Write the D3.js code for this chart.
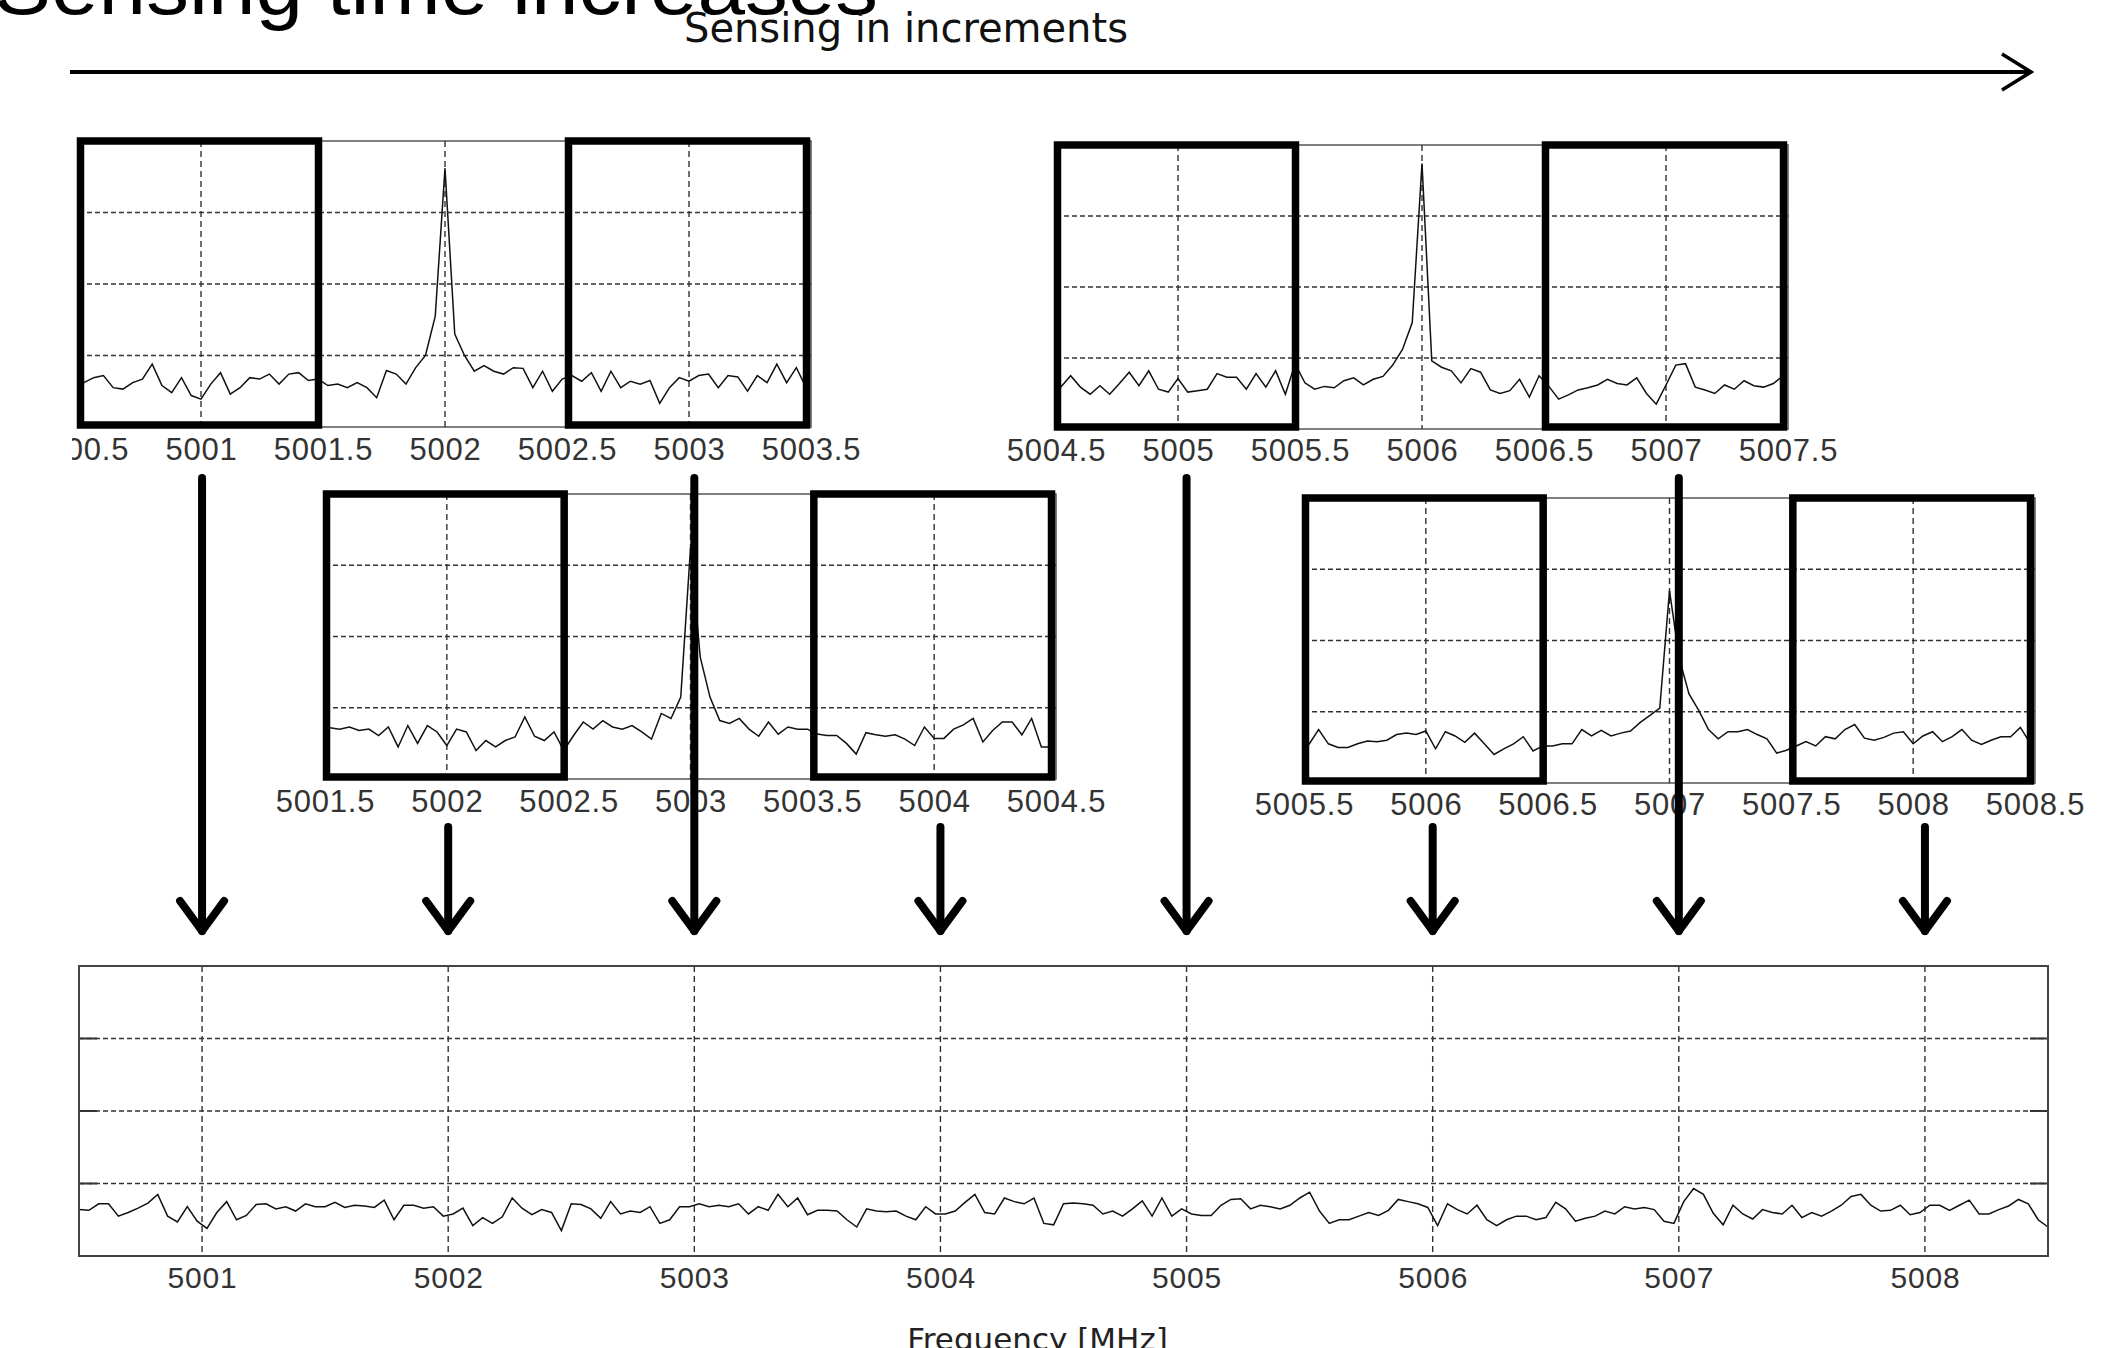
<!DOCTYPE html>
<html>
<head>
<meta charset="utf-8">
<script src="https://cdn.jsdelivr.net/npm/d3@7"></script>
<style>
  body { margin: 0; background: #fff; }
</style>
</head>
<body>
<div id="container"></div>
<script>
let width = 2123;
let height = 1348;

// spectrum samples, MHz apart
let step = 0.04;
let sweepOffset = 0.02;
let sweepSpan = 3;
let levelMax = 4;
let levelTicks = [1, 2, 3];

// left edge (MHz) of each partial sweep: top-left, top-right, middle-left, middle-right
let sweepStarts = [5000.5, 5004.5, 5001.5, 5005.5];

let sweep1 = [.62,.69,.72,.55,.53,.62,.67,.88,.58,.48,
  .69,.44,.39,.60,.76,.46,.55,.69,.67,.74,
  .60,.74,.76,.65,.67,.58,.60,.55,.62,.55,
  .41,.79,.74,.60,.83,1.0,1.55,3.62,1.3,1.0,
  .78,.86,.78,.74,.83,.82,.55,.78,.50,.67,
  .72,.64,.76,.50,.78,.55,.64,.60,.65,.33,
  .55,.69,.64,.72,.74,.55,.72,.70,.50,.72,
  .62,.88,.62,.83,.55];

let sweep2 = [.59,.75,.59,.49,.61,.49,.64,.80,.61,.82,
  .56,.52,.71,.52,.54,.56,.78,.73,.73,.56,
  .78,.59,.82,.49,.92,.65,.56,.60,.58,.68,
  .72,.62,.70,.74,.90,1.12,1.5,3.74,.96,.87,
  .82,.65,.85,.80,.55,.50,.54,.70,.45,.75,
  .60,.42,.48,.55,.58,.62,.70,.64,.62,.72,
  .50,.35,.62,.90,.92,.59,.55,.50,.62,.56,
  .68,.61,.59,.64,.75];

let sweep3 = [.72,.70,.73,.68,.70,.61,.73,.45,.75,.50,
  .75,.66,.47,.70,.66,.40,.54,.45,.54,.59,
  .87,.60,.54,.66,.40,.61,.80,.70,.82,.73,
  .70,.75,.66,.56,.92,.85,1.15,3.24,1.71,1.15,
  .82,.78,.85,.70,.60,.80,.63,.73,.70,.70,
  .63,.61,.61,.50,.35,.65,.62,.60,.62,.56,
  .47,.73,.57,.57,.70,.76,.85,.52,.68,.80,
  .80,.62,.85,.45,.45];

let sweep4 = [.54,.75,.55,.50,.50,.55,.59,.58,.60,.68,
  .70,.68,.73,.48,.72,.66,.57,.70,.55,.40,
  .48,.55,.65,.45,.52,.52,.55,.55,.75,.66,
  .74,.66,.70,.73,.85,.95,1.05,2.70,1.75,1.25,
  1.02,.75,.62,.72,.72,.75,.68,.62,.42,.46,
  .52,.58,.52,.65,.62,.75,.82,.63,.60,.64,
  .70,.72,.55,.66,.72,.58,.65,.75,.60,.54,
  .60,.65,.65,.78,.56];

// combined result, 5000.5 .. 5008.5 MHz
let combinedStart = 5000.5;
let combinedEnd = 5008.5;
let combined = [.64,.63,.72,.72,.55,.60,.66,.73,.85,.55,
  .47,.68,.48,.38,.60,.75,.50,.56,.71,.72,
  .65,.68,.62,.72,.68,.68,.74,.67,.70,.69,
  .67,.77,.50,.70,.70,.66,.68,.55,.58,.66,
  .42,.53,.45,.54,.80,.66,.57,.64,.60,.35,
  .72,.71,.65,.52,.75,.58,.62,.60,.68,.45,
  .50,.68,.68,.72,.68,.70,.68,.72,.58,.68,
  .63,.85,.68,.80,.57,.63,.63,.62,.50,.40,
  .65,.62,.61,.62,.55,.50,.68,.58,.58,.62,
  .74,.85,.60,.58,.80,.75,.72,.80,.45,.43,
  .72,.73,.72,.70,.58,.62,.55,.65,.76,.55,
  .80,.55,.65,.58,.56,.56,.70,.78,.79,.65,
  .70,.68,.65,.70,.80,.88,.62,.45,.50,.50,
  .55,.60,.56,.63,.78,.75,.72,.67,.42,.72,
  .64,.58,.70,.50,.42,.50,.55,.55,.50,.53,
  .74,.65,.48,.52,.55,.62,.58,.68,.65,.67,
  .64,.48,.45,.75,.93,.85,.59,.43,.70,.58,
  .51,.64,.60,.58,.70,.53,.60,.55,.62,.70,
  .82,.85,.70,.62,.63,.70,.57,.60,.70,.70,
  .63,.70,.77,.58,.58,.64,.69,.78,.72,.50,
  .40];
let combinedTicks = [5001, 5002, 5003, 5004, 5005, 5006, 5007, 5008];

let titleText = "Sensing time increases";
let arrowText = "Sensing in increments";
let axisTitle = "Frequency [MHz]";

let svg = d3.select("#container")
  .append("svg")
  .attr("width", width)
  .attr("height", height);

// the first label of the top-left sweep is cut on its left side
svg.append("defs").append("clipPath").attr("id", "clipLeft")
  .append("rect").attr("x", 72).attr("y", -200).attr("width", width).attr("height", 400);

let fmt = function (d) { return d % 1 === 0 ? String(d) : d.toFixed(1) };

// headings
svg.append("text").attr("x", -6).attr("y", 14).text(titleText)
  .attr("font-family", "Liberation Sans, Arial, sans-serif").attr("font-size", 80)
  .attr("textLength", 884).attr("lengthAdjust", "spacingAndGlyphs").attr("fill", "#000");

svg.append("text").attr("x", 684).attr("y", 42).text(arrowText)
  .attr("font-family", "DejaVu Sans, sans-serif").attr("font-size", 40)
  .attr("textLength", 444).attr("lengthAdjust", "spacingAndGlyphs").attr("fill", "#111");

svg.append("line").attr("x1", 70).attr("x2", 2029).attr("y1", 72).attr("y2", 72)
  .attr("stroke", "#000").attr("stroke-width", 4);
svg.append("polyline").attr("points", "2002,54 2031,72 2002,90")
  .attr("fill", "none").attr("stroke", "#000").attr("stroke-width", 3.5);

function drawSweep(frame, start, values, labelBaseline, clip) {
  let x = d3.scaleLinear().domain([start, start + sweepSpan]).range([frame.x0, frame.x1]);
  let y = d3.scaleLinear().domain([0, levelMax]).range([frame.y1, frame.y0]);
  let g = svg.append("g");

  g.append("rect")
    .attr("x", frame.x0).attr("y", frame.y0)
    .attr("width", frame.x1 - frame.x0).attr("height", frame.y1 - frame.y0)
    .attr("fill", "none").attr("stroke", "#555").attr("stroke-width", 1.5);

  g.selectAll(".hgrid").data(levelTicks).enter().append("line")
    .attr("x1", frame.x0).attr("x2", frame.x1)
    .attr("y1", function (d) { return y(d) }).attr("y2", function (d) { return y(d) })
    .attr("stroke", "#333").attr("stroke-width", 1.4).attr("stroke-dasharray", "5,3");

  let whole = d3.range(Math.ceil(start), start + sweepSpan);
  g.selectAll(".vgrid").data(whole).enter().append("line")
    .attr("x1", function (d) { return x(d) }).attr("x2", function (d) { return x(d) })
    .attr("y1", frame.y0).attr("y2", frame.y1)
    .attr("stroke", "#333").attr("stroke-width", 1.4).attr("stroke-dasharray", "6,4");

  let line = d3.line()
    .x(function (d, i) { return x(start + sweepOffset + i * step) })
    .y(function (d) { return y(d) });
  g.append("path").datum(values).attr("d", line)
    .attr("fill", "none").attr("stroke", "#111").attr("stroke-width", 1.5);

  // first and last MHz of the sweep are the kept windows
  [start, start + sweepSpan - 1].forEach(function (a) {
    g.append("rect")
      .attr("x", x(a) + 1.5).attr("y", frame.y0)
      .attr("width", x(a + 1) - x(a) - 6).attr("height", frame.y1 - frame.y0 - 2)
      .attr("fill", "none").attr("stroke", "#000").attr("stroke-width", 7.5);
  });

  let axis = d3.axisBottom(x)
    .tickValues(d3.range(0, 7).map(function (k) { return start + k * 0.5 }))
    .tickSize(0).tickPadding(0).tickFormat(fmt);
  let ax = g.append("g").attr("transform", `translate(0,${labelBaseline})`).call(axis)
    .attr("font-family", "Liberation Sans, Arial, sans-serif").attr("font-size", 31);
  ax.select(".domain").remove();
  ax.selectAll("text").attr("y", 0).attr("dy", null).attr("fill", "#333").style("letter-spacing", "0.8px");
  if (clip) ax.attr("clip-path", "url(#clipLeft)");
  return x;
}

let frames = [
  { x0: 79, x1: 811, y0: 141, y1: 427, label: 460 },
  { x0: 1056, x1: 1788, y0: 145, y1: 429, label: 461 },
  { x0: 325, x1: 1056, y0: 494, y1: 779, label: 812 },
  { x0: 1304, x1: 2035, y0: 498, y1: 783, label: 815 }
];
let sweeps = [sweep1, sweep2, sweep3, sweep4];
frames.forEach(function (f, k) {
  drawSweep(f, sweepStarts[k], sweeps[k], f.label, k === 0);
});

// combined panel
let bf = { x0: 79, x1: 2048, y0: 966, y1: 1256, label: 1288 };
let xB = d3.scaleLinear().domain([combinedStart, combinedEnd]).range([bf.x0, bf.x1]);
let yB = d3.scaleLinear().domain([0, levelMax]).range([bf.y1, bf.y0]);
let gb = svg.append("g");

gb.selectAll(".hgrid").data(levelTicks).enter().append("line")
  .attr("x1", bf.x0).attr("x2", bf.x1)
  .attr("y1", function (d) { return yB(d) }).attr("y2", function (d) { return yB(d) })
  .attr("stroke", "#333").attr("stroke-width", 1.4).attr("stroke-dasharray", "5,3");
gb.selectAll(".vgrid").data(combinedTicks).enter().append("line")
  .attr("x1", function (d) { return xB(d) }).attr("x2", function (d) { return xB(d) })
  .attr("y1", bf.y0).attr("y2", bf.y1)
  .attr("stroke", "#333").attr("stroke-width", 1.4).attr("stroke-dasharray", "6,4");
gb.selectAll(".ltick").data(levelTicks).enter().append("line")
  .attr("x1", bf.x0).attr("x2", bf.x0 + 18)
  .attr("y1", function (d) { return yB(d) }).attr("y2", function (d) { return yB(d) })
  .attr("stroke", "#333").attr("stroke-width", 2);
gb.selectAll(".rtick").data(levelTicks).enter().append("line")
  .attr("x1", bf.x1 - 18).attr("x2", bf.x1)
  .attr("y1", function (d) { return yB(d) }).attr("y2", function (d) { return yB(d) })
  .attr("stroke", "#333").attr("stroke-width", 2);

let lineB = d3.line()
  .x(function (d, i) { return xB(combinedStart + i * step) })
  .y(function (d) { return yB(d) });
gb.append("path").datum(combined).attr("d", lineB)
  .attr("fill", "none").attr("stroke", "#111").attr("stroke-width", 1.5);

gb.append("rect")
  .attr("x", bf.x0).attr("y", bf.y0)
  .attr("width", bf.x1 - bf.x0).attr("height", bf.y1 - bf.y0)
  .attr("fill", "none").attr("stroke", "#444").attr("stroke-width", 2);

let axB = gb.append("g").attr("transform", `translate(0,${bf.label})`)
  .call(d3.axisBottom(xB).tickValues(combinedTicks).tickSize(0).tickPadding(0).tickFormat(fmt))
  .attr("font-family", "Liberation Sans, Arial, sans-serif").attr("font-size", 30);
axB.select(".domain").remove();
axB.selectAll("text").attr("y", 0).attr("dy", null).attr("fill", "#333").style("letter-spacing", "0.8px");

svg.append("text").attr("x", (bf.x0 + bf.x1) / 2 - 26).attr("y", 1350).text(axisTitle)
  .attr("text-anchor", "middle")
  .attr("font-family", "DejaVu Sans, sans-serif").attr("font-size", 31).attr("fill", "#222");

// arrows: odd MHz come from the top row windows, even MHz from the middle row
let arrows = svg.append("g").attr("fill", "none").attr("stroke", "#000")
  .attr("stroke-width", 8).attr("stroke-linecap", "round").attr("stroke-linejoin", "round");
combinedTicks.forEach(function (f) {
  let ax = xB(f);
  let fromTop = f % 2 === 1;
  let y0 = fromTop ? frames[0].label + 18 : frames[2].label + 15;
  let tip = bf.y0 - 35;
  arrows.append("line").attr("x1", ax).attr("x2", ax).attr("y1", y0).attr("y2", tip);
  arrows.append("polyline").attr("points", `${ax - 22},${tip - 30} ${ax},${tip} ${ax + 22},${tip - 30}`);
});
</script>
</body>
</html>
